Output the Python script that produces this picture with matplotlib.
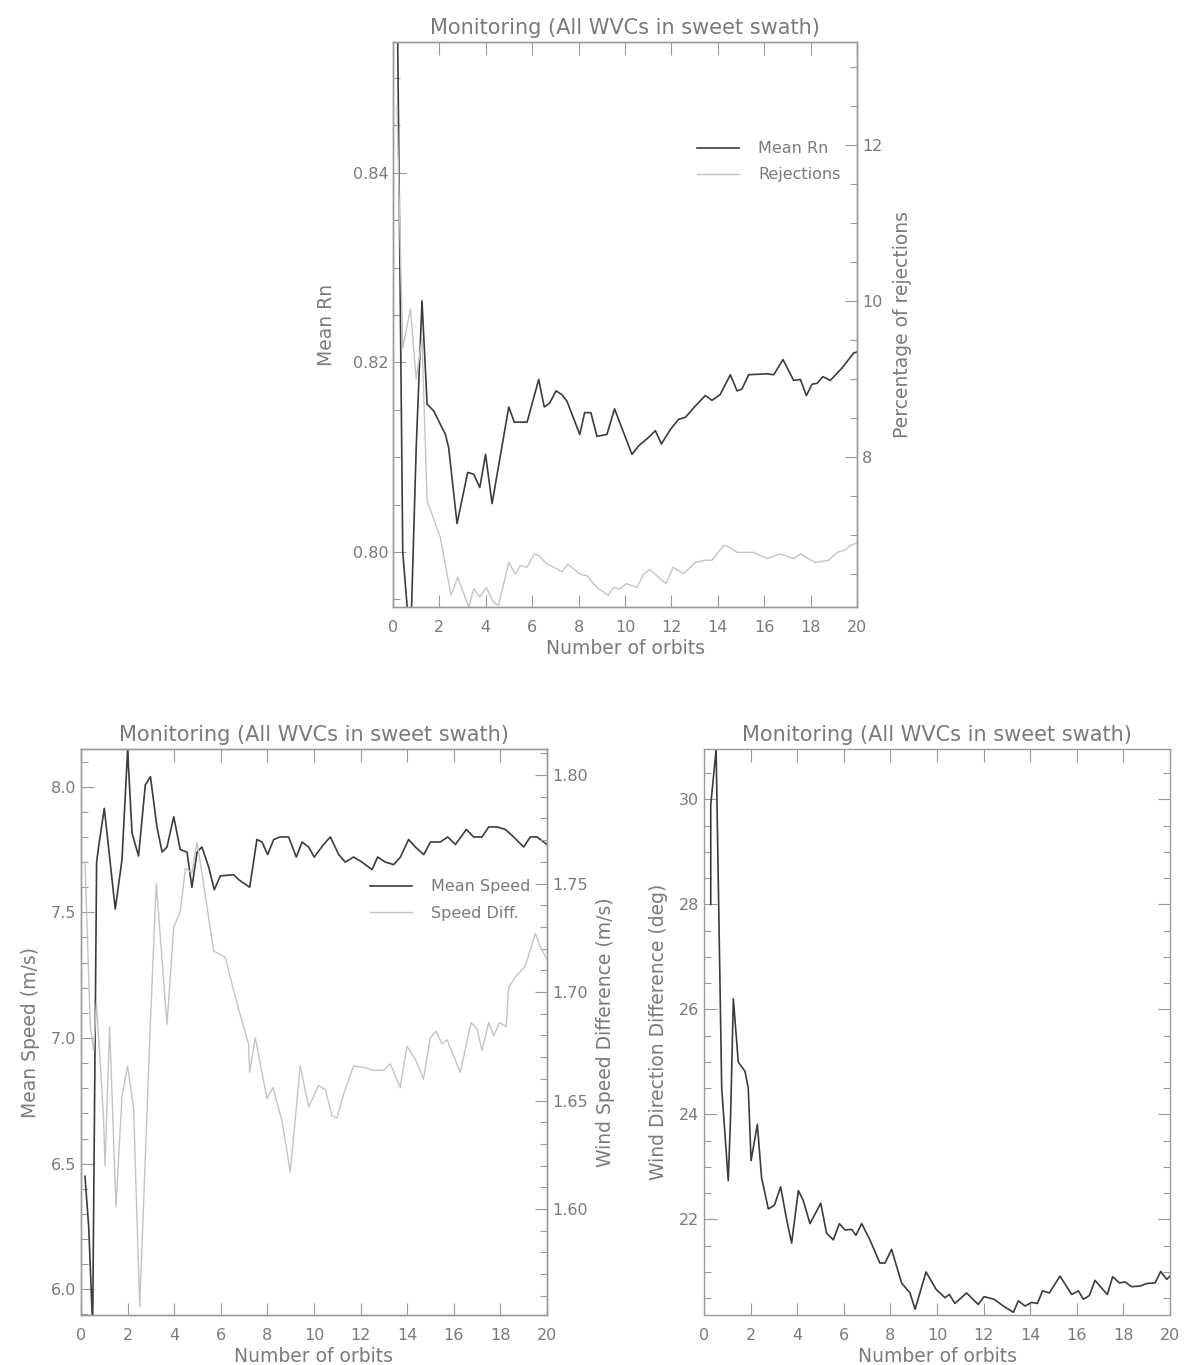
import matplotlib
matplotlib.use("Agg")
import matplotlib.pyplot as plt
from matplotlib.ticker import MultipleLocator, FormatStrFormatter

# ---------------- data ----------------
title = "Monitoring (All WVCs in sweet swath)"
xlabel = "Number of orbits"

# Top panel: Mean Rn and percentage of rejections
rn_orbits = [0.17, 0.42, 0.75, 1.0, 1.25, 1.47, 1.75, 2.26, 2.4, 2.76, 3.22, 3.48, 3.74, 3.99,
             4.27, 4.99, 5.23, 5.78, 6.28, 6.52, 6.75, 7.03, 7.28, 7.5, 8.05, 8.26, 8.53, 8.79,
             9.22, 9.55, 10.3, 10.59, 11.02, 11.31, 11.57, 11.95, 12.31, 12.6, 13.03, 13.46,
             13.75, 14.1, 14.54, 14.83, 15.04, 15.33, 16.12, 16.41, 16.81, 17.27, 17.56, 17.82,
             18.06, 18.28, 18.53, 18.85, 19.35, 19.86, 20.0]
mean_rn = [0.862, 0.800, 0.790, 0.811, 0.8265, 0.8156, 0.8149, 0.8124, 0.8110, 0.8030, 0.8084,
           0.8082, 0.8068, 0.8103, 0.8051, 0.8153, 0.8137, 0.8137, 0.8182, 0.8153, 0.8157,
           0.8170, 0.8166, 0.8159, 0.8124, 0.8147, 0.8147, 0.8122, 0.8124, 0.8151, 0.8103,
           0.8112, 0.8121, 0.8128, 0.8114, 0.8129, 0.8140, 0.8142, 0.8154, 0.8165, 0.8160,
           0.8166, 0.8187, 0.8170, 0.8172, 0.8187, 0.8188, 0.8187, 0.8203, 0.8181, 0.8182,
           0.8165, 0.8177, 0.8178, 0.8185, 0.8181, 0.8194, 0.8210, 0.8211]

rej_orbits = [0.17, 0.42, 0.75, 1.0, 1.25, 1.47, 2.04, 2.5, 2.79, 3.26, 3.48, 3.74, 4.02, 4.34,
              4.55, 4.99, 5.27, 5.49, 5.78, 6.09, 6.28, 6.64, 6.93, 7.28, 7.53, 7.79, 8.07,
              8.36, 8.79, 9.27, 9.51, 9.77, 10.06, 10.52, 10.8, 11.06, 11.45, 11.77, 12.07,
              12.28, 12.53, 13.03, 13.46, 13.75, 14.25, 14.47, 14.83, 15.55, 16.12, 16.7,
              17.27, 17.56, 18.2, 18.78, 19.14, 19.5, 19.71, 20.0]
rejections = [12.5, 9.4, 9.9, 9.0, 9.52, 7.44, 6.97, 6.23, 6.46, 6.08, 6.31, 6.21, 6.33, 6.14,
              6.10, 6.65, 6.50, 6.61, 6.59, 6.76, 6.74, 6.63, 6.59, 6.53, 6.63, 6.57, 6.50,
              6.48, 6.33, 6.23, 6.33, 6.31, 6.38, 6.33, 6.50, 6.56, 6.46, 6.38, 6.59, 6.55,
              6.51, 6.65, 6.68, 6.68, 6.87, 6.85, 6.78, 6.78, 6.70, 6.76, 6.70, 6.76, 6.65,
              6.68, 6.78, 6.81, 6.87, 6.90]

# Bottom-left panel: mean speed and speed difference
spd_orbits = [0.17, 0.33, 0.5, 0.67, 0.76, 1.0, 1.47, 1.76, 2.0, 2.19, 2.47, 2.76, 2.98, 3.26,
              3.48, 3.69, 3.98, 4.26, 4.55, 4.76, 4.98, 5.19, 5.48, 5.72, 5.98, 6.55, 6.77,
              7.24, 7.55, 7.77, 8.01, 8.27, 8.55, 8.91, 9.24, 9.49, 9.77, 10.01, 10.41, 10.7,
              11.06, 11.34, 11.7, 12.06, 12.49, 12.73, 13.06, 13.42, 13.71, 14.06, 14.35,
              14.71, 15.0, 15.42, 15.74, 16.07, 16.54, 16.85, 17.21, 17.5, 17.85, 18.21, 18.57,
              19.0, 19.28, 19.57, 20.0]
mean_speed = [6.45, 6.25, 5.85, 7.70, 7.763, 7.914, 7.513, 7.71, 8.145, 7.816, 7.724, 8.007,
              8.04, 7.84, 7.74, 7.76, 7.88, 7.75, 7.74, 7.60, 7.74, 7.76, 7.68, 7.59, 7.645,
              7.65, 7.63, 7.60, 7.79, 7.78, 7.73, 7.79, 7.80, 7.80, 7.72, 7.78, 7.76, 7.72,
              7.77, 7.80, 7.73, 7.70, 7.72, 7.70, 7.67, 7.72, 7.70, 7.69, 7.72, 7.79, 7.76,
              7.73, 7.78, 7.78, 7.80, 7.77, 7.83, 7.80, 7.80, 7.84, 7.84, 7.83, 7.80, 7.76,
              7.80, 7.80, 7.77]

diff_orbits = [0.17, 0.4, 0.54, 0.66, 0.83, 0.97, 1.03, 1.23, 1.5, 1.76, 2.0, 2.26, 2.52,
               2.97, 3.23, 3.69, 3.98, 4.26, 4.48, 4.76, 4.98, 5.19, 5.69, 6.19, 6.69, 7.19,
               7.24, 7.48, 7.98, 8.24, 8.62, 8.98, 9.41, 9.77, 10.2, 10.49, 10.77, 10.99,
               11.27, 11.7, 12.27, 12.49, 12.99, 13.27, 13.7, 13.99, 14.35, 14.7, 14.99, 15.25,
               15.49, 15.71, 16.28, 16.74, 17.0, 17.21, 17.5, 17.71, 17.97, 18.25, 18.35,
               18.64, 19.07, 19.5, 19.71, 20.0]
speed_diff = [1.760, 1.684, 1.673, 1.695, 1.667, 1.641, 1.620, 1.684, 1.601, 1.652, 1.666,
              1.646, 1.555, 1.684, 1.750, 1.685, 1.730, 1.737, 1.757, 1.755, 1.769, 1.755,
              1.719, 1.716, 1.695, 1.676, 1.663, 1.679, 1.651, 1.656, 1.641, 1.617, 1.666,
              1.647, 1.657, 1.655, 1.643, 1.642, 1.653, 1.666, 1.665, 1.664, 1.664, 1.667,
              1.656, 1.675, 1.669, 1.660, 1.679, 1.682, 1.676, 1.678, 1.663, 1.686, 1.683,
              1.673, 1.686, 1.680, 1.686, 1.684, 1.702, 1.707, 1.712, 1.727, 1.721, 1.715]

# Bottom-right panel: wind direction difference
dir_orbits = [0.29, 0.29, 0.52, 0.76, 1.04, 1.14, 1.26, 1.47, 1.76, 1.9, 2.02, 2.29, 2.47,
              2.76, 3.02, 3.29, 3.55, 3.76, 4.05, 4.26, 4.55, 5.01, 5.26, 5.55, 5.81, 6.05,
              6.34, 6.52, 6.77, 7.12, 7.55, 7.77, 8.05, 8.48, 8.84, 9.06, 9.53, 9.96, 10.34,
              10.53, 10.77, 11.27, 11.77, 12.02, 12.45, 12.85, 13.28, 13.49, 13.78, 14.06,
              14.31, 14.53, 14.82, 15.28, 15.78, 16.07, 16.28, 16.54, 16.78, 17.31, 17.54,
              17.83, 18.07, 18.35, 18.71, 19.0, 19.36, 19.6, 19.86, 20.0]
dir_diff = [28.0, 29.9, 30.95, 24.5, 22.74, 23.94, 26.2, 25.0, 24.82, 24.5, 23.12, 23.81,
            22.8, 22.2, 22.27, 22.62, 21.99, 21.55, 22.55, 22.36, 21.92, 22.31, 21.74, 21.61,
            21.92, 21.8, 21.81, 21.70, 21.92, 21.61, 21.17, 21.17, 21.43, 20.79, 20.60, 20.29,
            21.0, 20.67, 20.51, 20.57, 20.40, 20.60, 20.38, 20.53, 20.48, 20.35, 20.23, 20.45,
            20.35, 20.42, 20.40, 20.64, 20.60, 20.92, 20.57, 20.64, 20.48, 20.55, 20.84, 20.57,
            20.91, 20.79, 20.81, 20.72, 20.73, 20.78, 20.79, 21.01, 20.86, 20.92]

# ---------------- style ----------------
plt.rcParams['font.family'] = ['DejaVu Sans']
TXT = '#7a7a7a'
SPINE = '#9a9a9a'
DARK = '#3c3c3c'
LIGHT = '#c4c4c4'
FS_T, FS_L, FS_K, FS_G = 15, 13.5, 11.5, 11.5

fig = plt.figure(figsize=(11.84, 13.65), dpi=100)
W, H = 1184, 1365


def add_axes(l, t, r, b):
    return fig.add_axes([l / W, 1 - b / H, (r - l) / W, (b - t) / H])


def style(ax):
    for s in ax.spines.values():
        s.set_color(SPINE)
        s.set_linewidth(1.0)
    ax.tick_params(which='both', direction='in', colors=SPINE, labelcolor=TXT,
                   labelsize=FS_K, width=0.8)
    ax.tick_params(which='major', length=9)
    ax.tick_params(which='minor', length=5)


def xaxis(ax):
    ax.set_xlim(0, 20)
    ax.xaxis.set_major_locator(MultipleLocator(2))
    ax.tick_params(axis='x', top=True, bottom=True, pad=9)
    ax.set_xlabel(xlabel, color=TXT, fontsize=FS_L, labelpad=3)
    ax.set_title(title, color=TXT, fontsize=FS_T, pad=5.5)


# ---- top panel ----
ax1 = add_axes(393, 42, 857, 607)
style(ax1)
xaxis(ax1)
ax1.set_ylim(0.7942, 0.8538)
ax1.yaxis.set_major_locator(MultipleLocator(0.02))
ax1.yaxis.set_minor_locator(MultipleLocator(0.005))
ax1.yaxis.set_major_formatter(FormatStrFormatter('%.2f'))
ax1.tick_params(axis='y', which='both', left=True, right=False)
ax1.set_ylabel('Mean Rn', color=TXT, fontsize=FS_L, labelpad=12)
l1, = ax1.plot(rn_orbits, mean_rn, color=DARK, lw=1.2, label='Mean Rn')
ax1b = ax1.twinx()
style(ax1b)
ax1b.set_ylim(6.08, 13.32)
ax1b.yaxis.set_major_locator(MultipleLocator(2))
ax1b.yaxis.set_minor_locator(MultipleLocator(0.5))
ax1b.tick_params(axis='y', which='both', left=False, right=True)
ax1b.tick_params(axis='x', which='both', top=False, bottom=False)
ax1b.set_ylabel('Percentage of rejections', color=TXT, fontsize=FS_L, labelpad=8)
l2, = ax1b.plot(rej_orbits, rejections, color=LIGHT, lw=1.0, label='Rejections')
ax1b.legend(handles=[l1, l2], loc='upper right', bbox_to_anchor=(0.995, 0.85),
            frameon=False, fontsize=FS_G, labelcolor=TXT, handlelength=2.6,
            labelspacing=0.7, handletextpad=1.2)

# ---- bottom-left panel ----
ax2 = add_axes(81, 749, 547, 1315)
style(ax2)
xaxis(ax2)
ax2.set_ylim(5.898, 8.15)
ax2.yaxis.set_major_locator(MultipleLocator(0.5))
ax2.yaxis.set_minor_locator(MultipleLocator(0.1))
ax2.yaxis.set_major_formatter(FormatStrFormatter('%.1f'))
ax2.tick_params(axis='y', which='both', left=True, right=False)
ax2.set_ylabel('Mean Speed (m/s)', color=TXT, fontsize=FS_L, labelpad=8)
m1, = ax2.plot(spd_orbits, mean_speed, color=DARK, lw=1.2, label='Mean Speed')
ax2b = ax2.twinx()
style(ax2b)
ax2b.set_ylim(1.5512, 1.812)
ax2b.yaxis.set_major_locator(MultipleLocator(0.05))
ax2b.yaxis.set_minor_locator(MultipleLocator(0.01))
ax2b.yaxis.set_major_formatter(FormatStrFormatter('%.2f'))
ax2b.tick_params(axis='y', which='both', left=False, right=True)
ax2b.tick_params(axis='x', which='both', top=False, bottom=False)
ax2b.set_ylabel('Wind Speed Difference (m/s)', color=TXT, fontsize=FS_L, labelpad=6)
m2, = ax2b.plot(diff_orbits, speed_diff, color=LIGHT, lw=1.0, label='Speed Diff.')
ax2b.legend(handles=[m1, m2], loc='upper right', bbox_to_anchor=(0.995, 0.795),
            frameon=False, fontsize=FS_G, labelcolor=TXT, handlelength=2.6,
            labelspacing=0.7, handletextpad=1.2)

# ---- bottom-right panel ----
ax3 = add_axes(704, 749, 1170, 1315)
style(ax3)
xaxis(ax3)
ax3.set_ylim(20.18, 30.96)
ax3.yaxis.set_major_locator(MultipleLocator(2))
ax3.yaxis.set_minor_locator(MultipleLocator(0.5))
ax3.tick_params(axis='y', which='both', left=True, right=True)
ax3.set_ylabel('Wind Direction Difference (deg)', color=TXT, fontsize=FS_L, labelpad=8)
ax3.plot(dir_orbits, dir_diff, color=DARK, lw=1.2)

fig.savefig('out.png', dpi=100, facecolor='white')
